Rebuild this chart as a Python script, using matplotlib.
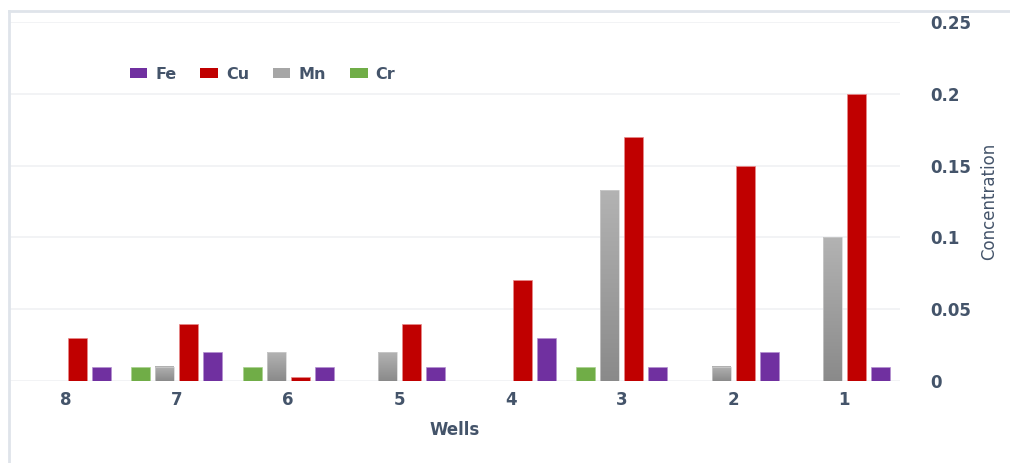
import numpy as np
import matplotlib.pyplot as plt
from matplotlib.lines import Line2D
from matplotlib.patches import Patch
from matplotlib.colors import LinearSegmentedColormap

# wells as shown on the axis, left to right
wells = ['8', '7', '6', '5', '4', '3', '2', '1']

fe = [0.01, 0.02, 0.01, 0.01, 0.03, 0.01, 0.02, 0.01]
cu = [0.03, 0.04, 0.003, 0.04, 0.07, 0.17, 0.15, 0.2]
mn = [0.0, 0.01, 0.02, 0.02, 0.0, 0.133, 0.01, 0.1]
cr = [0.0, 0.01, 0.01, 0.0, 0.0, 0.01, 0.0, 0.0]

text_col = '#44546a'
c_fe = '#7030a0'
c_cu = '#c00000'
c_cr = '#70ad47'

fig = plt.figure(figsize=(10.1, 4.63), dpi=100)
ax = fig.add_axes([10 / 1010, 82 / 463, 890 / 1010, 359 / 463])

x = np.arange(len(wells))
w = 0.17
step = 0.216

# bars left to right in each group: Cr, Mn, Cu, Fe
ax.bar(x - 1.5 * step, cr, w, color=c_cr, edgecolor='#a9d18e', linewidth=0.5, zorder=3)
mn_bars = ax.bar(x - 0.5 * step, mn, w, color='none', edgecolor='#d0d0d0', linewidth=0.5, zorder=4)
ax.bar(x + 0.5 * step, cu, w, color=c_cu, edgecolor='#e88a8a', linewidth=0.5, zorder=3)
ax.bar(x + 1.5 * step, fe, w, color=c_fe, edgecolor='#b48fd0', linewidth=0.5, zorder=3)

# grey gradient fill for the Mn bars (light at top, darker at the base)
grey = LinearSegmentedColormap.from_list('grey', ['#8a8a8a', '#b3b3b3'])
grad = np.linspace(0, 1, 256).reshape(-1, 1)
for b in mn_bars:
    h = b.get_height()
    if h <= 0:
        continue
    x0 = b.get_x()
    ax.imshow(grad, cmap=grey, origin='lower', aspect='auto',
              extent=[x0, x0 + b.get_width(), 0, h], zorder=3.5)

ax.set_xlim(-0.5, len(wells) - 0.5)
ax.set_ylim(0, 0.25)
ax.set_xticks(x)
ax.set_xticklabels(wells)
yt = [0, 0.05, 0.1, 0.15, 0.2, 0.25]
ax.set_yticks(yt)
ax.set_yticklabels(['0', '0.05', '0.1', '0.15', '0.2', '0.25'])

ax.yaxis.tick_right()
ax.yaxis.set_label_position('right')
ax.tick_params(axis='both', length=0, labelcolor=text_col, labelsize=12)
ax.tick_params(axis='y', pad=22)
ax.tick_params(axis='x', pad=7)
for lab in ax.get_xticklabels() + ax.get_yticklabels():
    lab.set_fontweight('bold')

for s in ax.spines.values():
    s.set_visible(False)
ax.grid(axis='y', color='#f0f1f4', linewidth=1.2, zorder=0)
ax.set_axisbelow(True)

ax.set_xlabel('Wells', color=text_col, fontsize=12, fontweight='bold', labelpad=9)
ax.set_ylabel('Concentration', color=text_col, fontsize=12, labelpad=6)

handles = [Patch(facecolor=c_fe, label='Fe'),
           Patch(facecolor=c_cu, label='Cu'),
           Patch(facecolor='#a6a6a6', label='Mn'),
           Patch(facecolor=c_cr, label='Cr')]
leg = fig.legend(handles=handles, loc='center left', bbox_to_anchor=(0.114, 0.84),
                 ncol=4, frameon=False, handlelength=1.1, handleheight=0.55,
                 handletextpad=0.5, columnspacing=1.5,
                 prop={'weight': 'bold', 'size': 11.5})
for t in leg.get_texts():
    t.set_color(text_col)

# outer chart frame
fx, fy = 9 / 1010, 1 - 11 / 463
fig.add_artist(Line2D([fx, fx], [0, fy], color='#dfe4ea', linewidth=2))
fig.add_artist(Line2D([fx, 1], [fy, fy], color='#dfe4ea', linewidth=2))

fig.savefig('out.png', dpi=100, facecolor='white')
